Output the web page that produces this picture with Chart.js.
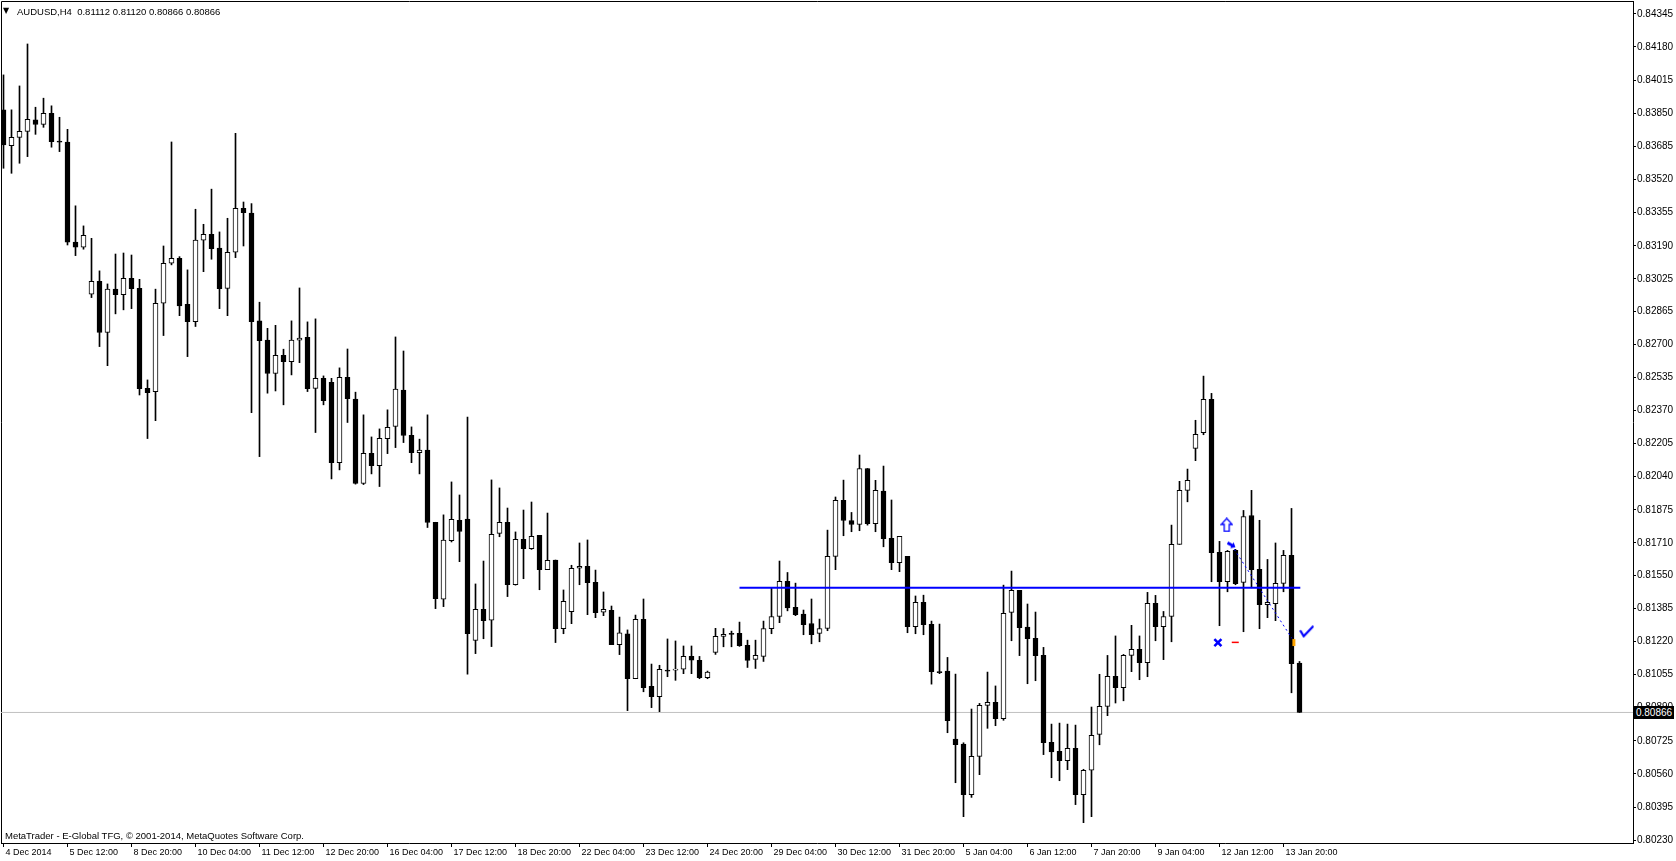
<!DOCTYPE html>
<html>
<head>
<meta charset="utf-8">
<title>AUDUSD,H4</title>
<script src="https://cdn.jsdelivr.net/npm/chart.js@4/dist/chart.umd.min.js"></script>
<style>
html,body{margin:0;padding:0;background:#fff;overflow:hidden;}
#wrap{position:relative;width:1676px;height:861px;}
#c{position:absolute;left:0;top:0;}
.txt{position:absolute;font-family:"Liberation Sans",Arial,sans-serif;font-size:9.5px;line-height:10px;color:#000;white-space:pre;}
#tri{position:absolute;left:3px;top:6px;font-family:"DejaVu Sans",sans-serif;font-size:8px;line-height:10px;}
#pricebox{position:absolute;left:1634px;width:40px;height:13px;background:#000;color:#fff;font-family:"Liberation Sans",Arial,sans-serif;font-size:10px;line-height:13px;text-align:center;}
</style>
</head>
<body>
<div id="wrap">
<canvas id="c" width="1676" height="861"></canvas>
<div id="tri">▼</div>
<div class="txt" id="title" style="left:17px;top:7px;">AUDUSD,H4  0.81112 0.81120 0.80866 0.80866</div>
<div class="txt" id="copy" style="left:5px;top:831px;">MetaTrader - E-Global TFG, © 2001-2014, MetaQuotes Software Corp.</div>
<div id="pricebox">0.80866</div>
</div>
<script>
// ---- data (AUDUSD H4, bar 0 = 4 Dec 2014 04:00) ----
const opens = [
0.83867,0.83689,0.83730,0.83760,0.83817,0.83795,0.83850,0.83712,0.83706,0.83208,
0.83183,0.82949,0.83013,0.82758,0.82974,0.82947,0.83028,0.82978,0.82480,0.82464,
0.82904,0.83103,0.83128,0.82899,0.82812,0.83218,0.83247,0.83178,0.82978,0.83158,
0.83377,0.83353,0.82816,0.82721,0.82554,0.82645,0.82613,0.82720,0.82734,0.82480,
0.82530,0.82510,0.82110,0.82535,0.82426,0.82006,0.82157,0.82095,0.82230,0.82290,
0.82471,0.82246,0.82160,0.82172,0.81813,0.81430,0.81722,0.81823,0.81829,0.81225,
0.81380,0.81325,0.81758,0.81813,0.81502,0.81728,0.81682,0.81748,0.81577,0.81625,
0.81283,0.81368,0.81584,0.81594,0.81514,0.81365,0.81375,0.81204,0.81257,0.81034,
0.81330,0.80996,0.80945,0.81076,0.81077,0.81081,0.81145,0.81126,0.81039,0.81165,
0.81245,0.81260,0.81260,0.81200,0.81130,0.81145,0.81283,0.81344,0.81519,0.81389,
0.81356,0.81309,0.81260,0.81284,0.81643,0.81922,0.81822,0.81802,0.82081,0.81806,
0.81968,0.81733,0.81612,0.81643,0.81293,0.81414,0.81305,0.81069,0.81072,0.80734,
0.80709,0.80456,0.80647,0.80901,0.80916,0.80835,0.81364,0.81474,0.81291,0.81235,
0.81150,0.80717,0.80672,0.80626,0.80687,0.80456,0.80578,0.80757,0.80896,0.81046,
0.80989,0.81150,0.81180,0.81114,0.81409,0.81293,0.81344,0.81703,0.81972,0.82181,
0.82259,0.82425,0.81663,0.81517,0.81673,0.81514,0.81847,0.81579,0.81403,0.81408,
0.81509,0.81648,0.81112];
const highs = [
0.84041,0.83867,0.83986,0.84195,0.83880,0.83925,0.83887,0.83830,0.83770,0.83389,
0.83289,0.83227,0.83065,0.83000,0.83149,0.83154,0.83144,0.83023,0.82522,0.82974,
0.83189,0.83707,0.83136,0.83070,0.83372,0.83297,0.83472,0.83259,0.83327,0.83750,
0.83408,0.83400,0.82909,0.82779,0.82794,0.82675,0.82816,0.82980,0.82811,0.82826,
0.82542,0.82530,0.82582,0.82676,0.82461,0.82348,0.82238,0.82278,0.82373,0.82736,
0.82666,0.82288,0.82227,0.82348,0.81813,0.81850,0.82014,0.81949,0.82337,0.81506,
0.81620,0.82024,0.81984,0.81884,0.81765,0.81874,0.81914,0.81748,0.81859,0.81625,
0.81476,0.81599,0.81710,0.81725,0.81575,0.81466,0.81396,0.81341,0.81277,0.81351,
0.81431,0.81107,0.81101,0.81232,0.81222,0.81197,0.81197,0.81145,0.81072,0.81285,
0.81284,0.81271,0.81316,0.81226,0.81226,0.81321,0.81484,0.81620,0.81563,0.81510,
0.81376,0.81431,0.81331,0.81774,0.81939,0.82023,0.81862,0.82148,0.82081,0.82022,
0.82093,0.81924,0.81743,0.81643,0.81446,0.81450,0.81321,0.81306,0.81140,0.81057,
0.80715,0.80883,0.80911,0.81067,0.80998,0.81500,0.81570,0.81474,0.81406,0.81366,
0.81190,0.80808,0.80813,0.80808,0.80803,0.80583,0.80893,0.81056,0.81150,0.81247,
0.81155,0.81300,0.81247,0.81464,0.81449,0.81369,0.81799,0.82017,0.82078,0.82321,
0.82541,0.82455,0.81718,0.81673,0.81678,0.81872,0.81972,0.81823,0.81628,0.81710,
0.81673,0.81882,0.81120];
const lows = [
0.83576,0.83551,0.83601,0.83634,0.83745,0.83780,0.83681,0.83659,0.83194,0.83141,
0.83173,0.82932,0.82688,0.82593,0.82851,0.82871,0.82877,0.82447,0.82230,0.82319,
0.82743,0.83095,0.82842,0.82638,0.82788,0.83061,0.83123,0.82877,0.82842,0.83131,
0.83189,0.82359,0.82140,0.82456,0.82467,0.82398,0.82547,0.82608,0.82464,0.82260,
0.82398,0.82029,0.82074,0.82310,0.82003,0.82001,0.82054,0.81991,0.82155,0.82185,
0.82210,0.82110,0.82054,0.81787,0.81383,0.81393,0.81715,0.81617,0.81057,0.81159,
0.81233,0.81194,0.81741,0.81443,0.81500,0.81532,0.81678,0.81477,0.81577,0.81214,
0.81258,0.81308,0.81502,0.81353,0.81338,0.81348,0.81204,0.81154,0.80875,0.81034,
0.80969,0.80890,0.80870,0.81044,0.81026,0.81059,0.81059,0.81034,0.81034,0.81155,
0.81193,0.81193,0.81195,0.81090,0.81085,0.81120,0.81258,0.81313,0.81372,0.81348,
0.81253,0.81208,0.81218,0.81273,0.81577,0.81746,0.81766,0.81771,0.81799,0.81766,
0.81691,0.81577,0.81567,0.81263,0.81258,0.81253,0.81007,0.81059,0.80765,0.80516,
0.80347,0.80443,0.80556,0.80787,0.80800,0.80827,0.81223,0.81149,0.81009,0.81024,
0.80656,0.80541,0.80526,0.80581,0.80407,0.80317,0.80347,0.80705,0.80850,0.80913,
0.80924,0.81069,0.81029,0.81044,0.81223,0.81129,0.81218,0.81703,0.81915,0.82120,
0.82249,0.81517,0.81298,0.81467,0.81502,0.81268,0.81487,0.81283,0.81338,0.81323,
0.81467,0.80964,0.80866];
const closes = [
0.83692,0.83730,0.83760,0.83820,0.83794,0.83850,0.83709,0.83706,0.83208,0.83183,
0.83242,0.83013,0.82758,0.82974,0.82947,0.83028,0.82977,0.82479,0.82459,0.82904,
0.83103,0.83128,0.82891,0.82812,0.83218,0.83247,0.83176,0.82977,0.83158,0.83377,
0.83355,0.82812,0.82718,0.82554,0.82645,0.82613,0.82720,0.82730,0.82479,0.82530,
0.82419,0.82110,0.82535,0.82429,0.82006,0.82157,0.82095,0.82231,0.82286,0.82476,
0.82245,0.82160,0.82172,0.81812,0.81433,0.81724,0.81828,0.81767,0.81258,0.81380,
0.81323,0.81753,0.81813,0.81502,0.81728,0.81682,0.81743,0.81577,0.81624,0.81283,
0.81419,0.81584,0.81594,0.81512,0.81363,0.81380,0.81204,0.81262,0.81034,0.81330,
0.80989,0.80945,0.81081,0.81072,0.81081,0.81145,0.81126,0.81039,0.81067,0.81245,
0.81255,0.81255,0.81198,0.81125,0.81150,0.81284,0.81344,0.81519,0.81387,0.81353,
0.81303,0.81253,0.81284,0.81643,0.81922,0.81822,0.81802,0.82081,0.81806,0.81972,
0.81731,0.81612,0.81743,0.81293,0.81414,0.81303,0.81069,0.81064,0.80825,0.80705,
0.80456,0.80647,0.80901,0.80916,0.80835,0.81359,0.81474,0.81288,0.81233,0.81149,
0.80715,0.80670,0.80626,0.80687,0.80456,0.80578,0.80752,0.80896,0.81046,0.80989,
0.81150,0.81180,0.81114,0.81409,0.81293,0.81344,0.81703,0.81972,0.82022,0.82251,
0.82425,0.81662,0.81517,0.81668,0.81507,0.81842,0.81577,0.81403,0.81414,0.81509,
0.81648,0.81109,0.80866];

const timeTickBars = [0,8,16,24,32,40,48,56,64,72,80,88,96,104,112,120,128,136,144,152,160];
const timeTickLabels = ["4 Dec 2014","5 Dec 12:00","8 Dec 20:00","10 Dec 04:00","11 Dec 12:00","12 Dec 20:00","16 Dec 04:00","17 Dec 12:00","18 Dec 20:00","22 Dec 04:00","23 Dec 12:00","24 Dec 20:00","29 Dec 04:00","30 Dec 12:00","31 Dec 20:00","5 Jan 04:00","6 Jan 12:00","7 Jan 20:00","9 Jan 04:00","12 Jan 12:00","13 Jan 20:00"];
const priceTicks = [0.84345,0.84180,0.84015,0.83850,0.83685,0.83520,0.83355,0.83190,0.83025,0.82865,0.82700,0.82535,0.82370,0.82205,0.82040,0.81875,0.81710,0.81550,0.81385,0.81220,0.81055,0.80890,0.80725,0.80560,0.80395,0.80230];

const currentPrice = 0.80866;
const levelPrice = 0.81487;
const levelFromBar = 92;
const levelToBar = 162.1;
// trade history marks: [bar, price]
const tradeLineBars = [153.5, 161.05];
const tradeLinePrices = [0.81700, 0.81235];
const upArrowMark = [152.9, 0.81800];
const crossMark = [151.8, 0.81214];
const redDashMark = [153.97, 0.81215];
const orangeMark = [161.3, 0.81214];
const checkMark = [162.9, 0.81268];
const xMin = -0.3125, xMax = 203.6875;
const yMin = 0.8021586, yMax = 0.8440902;

// ---- build ----
const idx = opens.map((_, i) => i);

function makeUpArrow() {
  const c = document.createElement('canvas'); c.width = 13; c.height = 15;
  const g = c.getContext('2d');
  g.strokeStyle = '#0000ff'; g.lineWidth = 1.3;
  g.beginPath();
  g.moveTo(6.5, 1); g.lineTo(12, 7); g.lineTo(9, 7); g.lineTo(9, 14); g.lineTo(4, 14); g.lineTo(4, 7); g.lineTo(1, 7); g.closePath();
  g.stroke();
  return c;
}
function makeCheck() {
  const c = document.createElement('canvas'); c.width = 15; c.height = 13;
  const g = c.getContext('2d');
  g.strokeStyle = '#0000ff'; g.lineWidth = 2.2; g.lineCap = 'round';
  g.beginPath(); g.moveTo(1.5, 6); g.lineTo(4.5, 11); g.lineTo(13.5, 1.5); g.stroke();
  return c;
}
function makeSmallArrow() {
  const c = document.createElement('canvas'); c.width = 9; c.height = 9;
  const g = c.getContext('2d');
  g.fillStyle = '#0000ff';
  g.translate(4.5, 4.5); g.rotate(0.5); g.translate(-4.5, -4.5);
  g.beginPath(); g.moveTo(0, 3); g.lineTo(5, 3); g.lineTo(5, 1); g.lineTo(9, 4.5); g.lineTo(5, 8); g.lineTo(5, 6); g.lineTo(0, 6); g.closePath(); g.fill();
  return c;
}

const framePlugin = {
  id: 'frame',
  beforeDatasetsDraw(chart) {
    const {ctx, chartArea: a} = chart;
    ctx.save();
    ctx.strokeStyle = '#000'; ctx.lineWidth = 1;
    ctx.beginPath();
    ctx.moveTo(a.left + 0.5, a.bottom);
    ctx.lineTo(a.left + 0.5, a.top + 0.5);
    ctx.lineTo(a.right, a.top + 0.5);
    ctx.stroke();
    ctx.restore();
  }
};

Chart.defaults.font.family = "'Liberation Sans', Arial, sans-serif";
Chart.defaults.color = '#000';

const chart = new Chart(document.getElementById('c'), {
  type: 'bar',
  data: {
    datasets: [
      { type: 'line', order: 5, data: [{x: xMin, y: currentPrice}, {x: xMax, y: currentPrice}],
        borderColor: '#c0c0c0', borderWidth: 1, pointRadius: 0, fill: false },
      { type: 'bar', order: 4, data: idx.map(i => ({x: i, y: [lows[i], highs[i]]})),
        backgroundColor: '#000', borderWidth: 0, barThickness: 1, grouped: false },
      { type: 'bar', order: 3, data: idx.map(i => ({x: i, y: [opens[i], closes[i]]})),
        backgroundColor: idx.map(i => closes[i] >= opens[i] ? '#ffffff' : '#000000'),
        borderColor: '#000', borderWidth: 1, borderSkipped: false, barThickness: 5, grouped: false, minBarLength: 1 },
      { type: 'line', order: 2, data: [{x: levelFromBar, y: levelPrice}, {x: levelToBar, y: levelPrice}],
        borderColor: '#0000ff', borderWidth: 2, pointRadius: 0, fill: false },
      { type: 'line', order: 1, data: tradeLineBars.map((b, i) => ({x: b, y: tradeLinePrices[i]})),
        borderColor: '#0000ff', borderWidth: 1, borderDash: [2, 3], pointRadius: 0, fill: false },
      { type: 'scatter', order: 0, data: [{x: tradeLineBars[0], y: tradeLinePrices[0]}],
        pointStyle: makeSmallArrow(), pointRadius: 4 },
      { type: 'scatter', order: 0, data: [{x: upArrowMark[0], y: upArrowMark[1]}],
        pointStyle: makeUpArrow(), pointRadius: 6 },
      { type: 'scatter', order: 0, data: [{x: checkMark[0], y: checkMark[1]}],
        pointStyle: makeCheck(), pointRadius: 6 },
      { type: 'scatter', order: 0, data: [{x: crossMark[0], y: crossMark[1]}],
        pointStyle: 'crossRot', pointRadius: 5, borderColor: '#0000ff', backgroundColor: '#0000ff', pointBorderWidth: 2.5 },
      { type: 'scatter', order: 0, data: [{x: redDashMark[0], y: redDashMark[1]}],
        pointStyle: 'line', pointRadius: 3.5, borderColor: '#ff0000', backgroundColor: '#ff0000', pointBorderWidth: 1.5 },
      { type: 'scatter', order: 0, data: [{x: orangeMark[0], y: orangeMark[1]}],
        pointStyle: 'line', pointRotation: 90, pointRadius: 3.5, borderColor: '#ffa500', backgroundColor: '#ffa500', pointBorderWidth: 3 }
    ]
  },
  options: {
    responsive: false,
    animation: false,
    devicePixelRatio: 1,
    events: [],
    layout: { autoPadding: false, padding: { left: 1, top: 1, right: 0, bottom: 0 } },
    plugins: { legend: { display: false }, tooltip: { enabled: false }, title: { display: false } },
    scales: {
      x: {
        type: 'linear', position: 'bottom', min: xMin, max: xMax, offset: false, bounds: 'data',
        afterBuildTicks: s => { s.ticks = timeTickBars.map(v => ({value: v})); },
        afterFit: s => { s.height = 18; s.paddingLeft = 0; s.paddingRight = 0; },
        ticks: { autoSkip: false, maxRotation: 0, minRotation: 0, align: 'start', labelOffset: 2, padding: 0,
                 font: { size: 9 }, color: '#000', callback: (v, i) => timeTickLabels[i] },
        grid: { offset: false, drawOnChartArea: false, drawTicks: true, tickLength: 4, color: '#000', lineWidth: 1 },
        border: { display: true, color: '#000', width: 1 }
      },
      y: {
        type: 'linear', position: 'right', min: yMin, max: yMax, bounds: 'data',
        afterBuildTicks: s => { s.ticks = priceTicks.map(v => ({value: v})); },
        afterFit: s => { s.width = 43; s.paddingTop = 0; s.paddingBottom = 0; },
        ticks: { autoSkip: false, padding: 1, font: { size: 10 }, color: '#000', callback: v => v.toFixed(5) },
        grid: { drawOnChartArea: false, drawTicks: true, tickLength: 3, color: '#000', lineWidth: 1 },
        border: { display: true, color: '#000', width: 1 }
      }
    }
  },
  plugins: [framePlugin]
});

const py = chart.scales.y.getPixelForValue(currentPrice);
const pb = document.getElementById('pricebox');
pb.style.top = (Math.round(py) - 6) + 'px';
pb.style.left = Math.round(chart.chartArea.right + 1) + 'px';
</script>
</body>
</html>
